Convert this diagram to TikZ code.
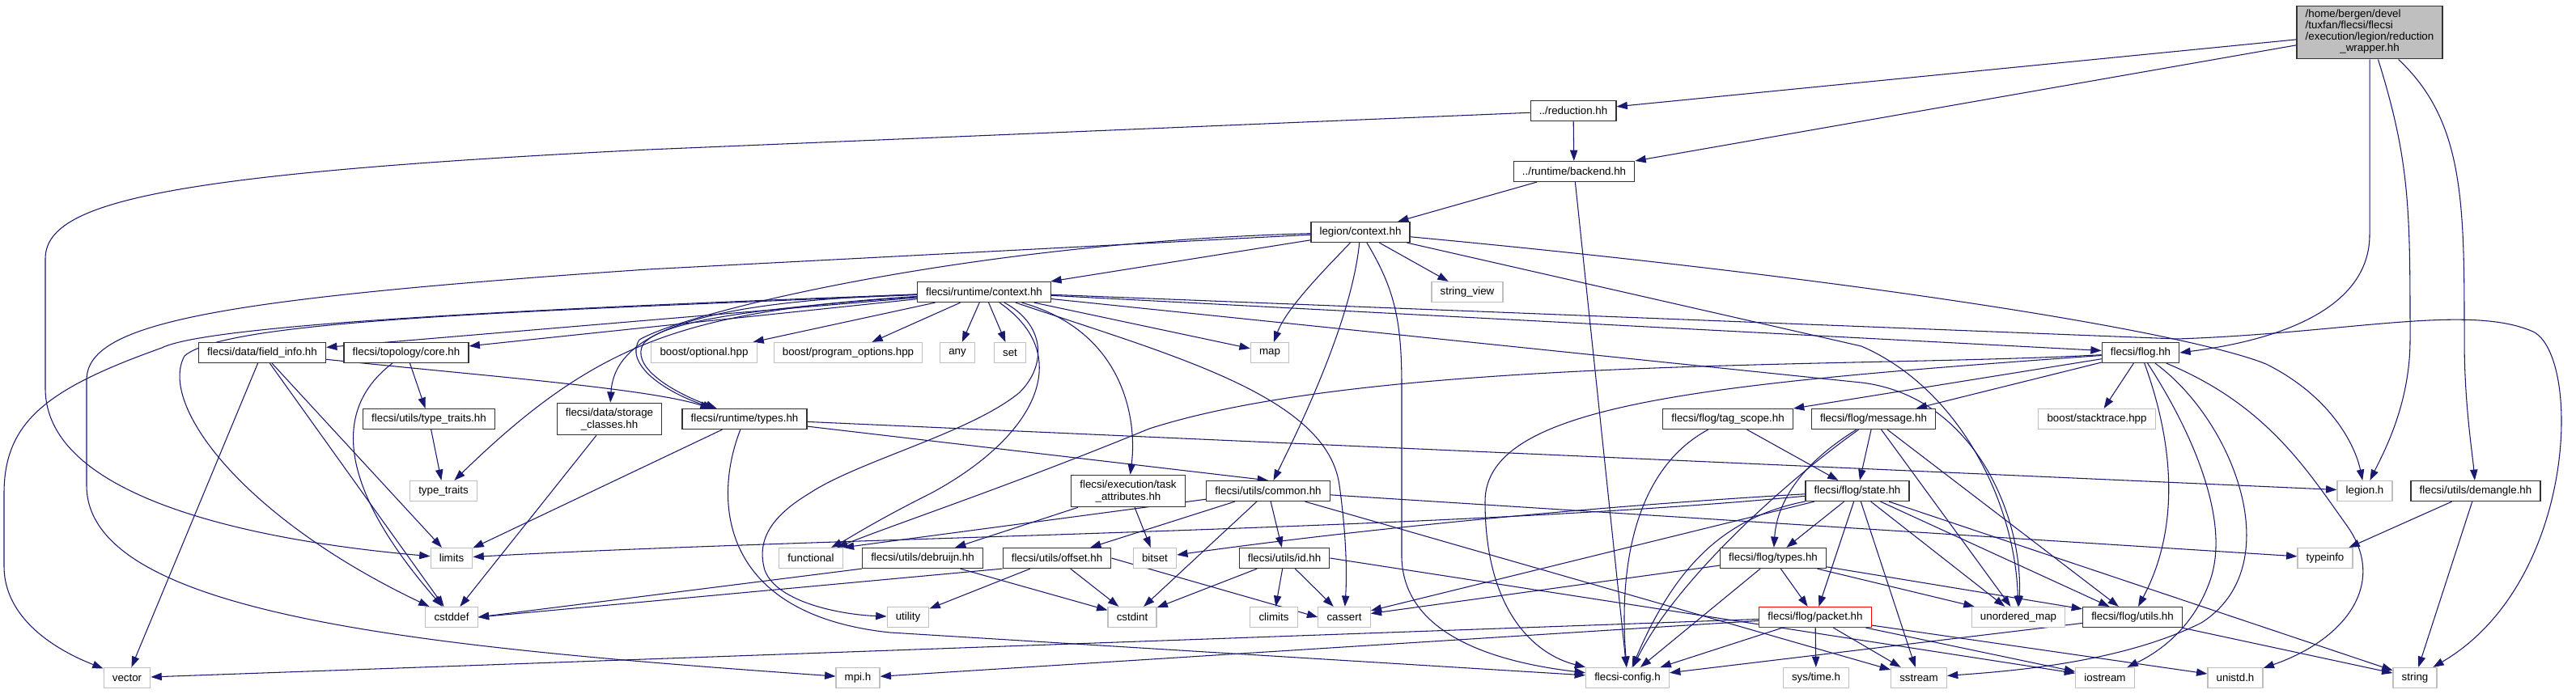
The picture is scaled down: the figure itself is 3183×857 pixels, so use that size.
\documentclass[tikz,border=0pt]{standalone}
\usepackage{fontspec}
\setmainfont{Liberation Sans}
\usepackage{xcolor}
\usetikzlibrary{arrows.meta,backgrounds}

\definecolor{edgeblue}{HTML}{191970}
\definecolor{extgray}{HTML}{BFBFBF}

\begin{document}
\begin{tikzpicture}[
    x=0.75pt, y=-0.75pt,
    hdr/.style={
      rectangle, align=center,
      font=\fontsize{10}{11.25}\selectfont,
      inner xsep=8pt, inner ysep=4.5pt,
      minimum height=18.75pt, line width=0.9pt
    },
    box/.style={hdr, draw=black!80, fill=white},
    extbox/.style={hdr, draw=extgray, fill=white},
    rootbox/.style={hdr, draw=black!80, fill=extgray, inner ysep=3.5pt},
    redbox/.style={hdr, draw=red, fill=white},
    arr/.style={-{Triangle[length=10pt,width=7pt]}, line width=0.8pt, edgeblue},
  ]
  \useasboundingbox (0,0) rectangle (3183,857);

  % The file itself
  \node[rootbox] (root) at (2928,40) {{\renewcommand\arraystretch{0.94}%
    \begin{tabular}{@{}l@{}}/home/bergen/devel\\/tuxfan/flecsi/flecsi\\/execution/legion/reduction\\
    \multicolumn{1}{@{}c@{}}{\_wrapper.hh}\end{tabular}}};

  % Backend chain
  \node[box] (red)     at (1944,137) {../reduction.hh};
  \node[box] (backend) at (1945,212) {../runtime/backend.hh};
  \node[box] (lctx)    at (1681,287) {legion/context.hh};
  \node[extbox] (strview) at (1813,361) {string\_view};
  \node[box] (rctx)    at (1216,361) {flecsi/runtime/context.hh};

  % Row below the runtime context
  \node[box] (finfo)   at (324,436)  {flecsi/data/field\_info.hh};
  \node[box] (tcore)   at (502,436)  {flecsi/topology/core.hh};
  \node[extbox] (bopt) at (870,436)  {boost/optional.hpp};
  \node[extbox] (bpo)  at (1048,436) {boost/program\_options.hpp};
  \node[extbox] (any)  at (1183,436) {any};
  \node[extbox] (set)  at (1248,436) {set};
  \node[extbox] (map)  at (1569,436) {map};
  \node[box] (flog)    at (2645,436) {flecsi/flog.hh};

  \node[box] (ttraitshh)  at (530,518)  {flecsi/utils/type\_traits.hh};
  \node[box] (storage)    at (753,518)  {flecsi/data/storage\\\_classes.hh};
  \node[box] (rtypes)     at (920,518)  {flecsi/runtime/types.hh};
  \node[box] (tagscope)   at (2135,518) {flecsi/flog/tag\_scope.hh};
  \node[box] (message)    at (2315,518) {flecsi/flog/message.hh};
  \node[extbox] (stacktrace) at (2591,518) {boost/stacktrace.hpp};

  \node[extbox] (ttraits) at (548,607)  {type\_traits};
  \node[box] (taskattr)   at (1394,607) {flecsi/execution/task\\\_attributes.hh};
  \node[box] (common)     at (1567,607) {flecsi/utils/common.hh};
  \node[box] (state)      at (2295,607) {flecsi/flog/state.hh};
  \node[extbox] (legionh) at (2922,607) {legion.h};
  \node[box] (demangle)   at (3059,607) {flecsi/utils/demangle.hh};

  \node[extbox] (limits)  at (558,690)  {limits};
  \node[extbox] (functional) at (1002,690) {functional};
  \node[box] (debruijn)   at (1140,690) {flecsi/utils/debruijn.hh};
  \node[box] (offset)     at (1306,690) {flecsi/utils/offset.hh};
  \node[extbox] (bitset)  at (1427,690) {bitset};
  \node[box] (id)         at (1587,690) {flecsi/utils/id.hh};
  \node[box] (ftypes)     at (2191,690) {flecsi/flog/types.hh};
  \node[extbox] (typeinfo) at (2873,690) {typeinfo};

  \node[extbox] (cstddef) at (558,763)  {cstddef};
  \node[extbox] (utility) at (1122,763) {utility};
  \node[extbox] (cstdint) at (1399,763) {cstdint};
  \node[extbox] (climits) at (1574,763) {climits};
  \node[extbox] (cassert) at (1661,763) {cassert};
  \node[redbox] (packet)  at (2243,763) {flecsi/flog/packet.hh};
  \node[extbox] (umap)    at (2494,763) {unordered\_map};
  \node[box] (futils)     at (2635,763) {flecsi/flog/utils.hh};

  % Bottom row
  \node[extbox] (vector)  at (157,838)  {vector};
  \node[extbox] (mpi)     at (1060,838) {mpi.h};
  \node[extbox] (config)  at (2011,838) {flecsi-config.h};
  \node[extbox] (systime) at (2244,838) {sys/time.h};
  \node[extbox] (sstream) at (2371,838) {sstream};
  \node[extbox] (iostream) at (2601,838) {iostream};
  \node[extbox] (unistd)  at (2762,838) {unistd.h};
  \node[extbox] (string)  at (2984,838) {string};

  \begin{scope}[on background layer]
  % Edges from the file
  \draw[arr] (root) -- (red);
  \draw[arr] (root) -- (backend);
  \draw[arr] (root.south) -- (2928,290) .. controls (2928,380) and (2820,420) .. (flog.east);
  \draw[arr] (root) .. controls (2978,200) and (2978,260) .. (2978,420) .. controls (2978,500) and (2945,560) .. (legionh);
  \draw[arr] (root) .. controls (3045,150) and (3045,250) .. (3045,420) .. controls (3045,500) and (3055,560) .. (demangle);

  % Reduction and backend
  \draw[arr] (red) -- (backend);
  \draw[arr] (red) -- (800,185) .. controls (200,215) and (56,250) .. (56,320) -- (56,480) .. controls (56,620) and (330,670) .. (limits);
  \draw[arr] (backend) -- (lctx);
  \draw[arr] (backend) -- (config);

  % Legion context
  \draw[arr] (lctx) -- (rctx);
  \draw[arr] (lctx) -- (strview);
  \draw[arr] (lctx) .. controls (1640,330) and (1590,380) .. (map);
  \draw[arr] (lctx) .. controls (1670,400) and (1600,540) .. (common);
  \draw[arr] (lctx) .. controls (1200,300) and (850,385) .. (790,420) .. controls (772,448) and (815,482) .. (rtypes);
  \draw[arr] (lctx) .. controls (2300,345) and (2700,410) .. (2800,450) .. controls (2880,490) and (2910,550) .. (legionh);
  \draw[arr] (lctx) -- (800,333) .. controls (260,370) and (107,400) .. (107,470) -- (107,600) .. controls (107,760) and (520,800) .. (mpi);
  \draw[arr] (lctx) -- (2300,428) .. controls (2420,480) and (2490,620) .. (umap);
  \draw[arr] (lctx) .. controls (1725,360) and (1732,400) .. (1732,480) -- (1732,690) .. controls (1735,790) and (1860,820) .. (config);

  % Runtime context
  \draw[arr] (rctx) -- (finfo);
  \draw[arr] (rctx) -- (tcore);
  \draw[arr] (rctx) .. controls (900,372) and (760,400) .. (storage);
  \draw[arr] (rctx) .. controls (850,385) and (740,420) .. (ttraits);
  \draw[arr] (rctx) .. controls (950,380) and (820,395) .. (795,425) .. controls (780,450) and (820,480) .. (rtypes);
  \draw[arr] (rctx) -- (bopt);
  \draw[arr] (rctx) -- (bpo);
  \draw[arr] (rctx) -- (any);
  \draw[arr] (rctx) -- (set);
  \draw[arr] (rctx) -- (map);
  \draw[arr] (rctx) .. controls (1290,400) and (1295,450) .. (1260,485) .. controls (1200,535) and (1060,570) .. (1000,610) .. controls (950,640) and (935,670) .. (945,705) .. controls (960,745) and (1040,760) .. (utility);
  \draw[arr] (rctx) .. controls (1330,440) and (1280,540) .. (1150,610) .. controls (1080,645) and (1050,665) .. (functional);
  \draw[arr] (rctx) .. controls (1390,410) and (1405,520) .. (taskattr);
  \draw[arr] (rctx) .. controls (1450,440) and (1640,490) .. (1655,600) .. controls (1662,650) and (1665,700) .. (cassert);
  \draw[arr] (rctx) -- (flog);
  \draw[arr] (rctx) -- (2690,419) .. controls (2900,412) and (3050,375) .. (3130,410) .. controls (3190,440) and (3185,720) .. (string);
  \draw[arr] (rctx) -- (2300,473) .. controls (2440,490) and (2500,640) .. (umap);
  \draw[arr] (rctx) .. controls (700,380) and (260,400) .. (200,430) .. controls (60,480) and (5,520) .. (5,610) -- (5,700) .. controls (5,760) and (60,800) .. (vector);
  \draw[arr] (rctx) .. controls (650,385) and (280,395) .. (228,440) .. controls (195,500) and (300,640) .. (cstddef);

  % Data, topology, runtime types
  \draw[arr] (finfo) .. controls (600,465) and (800,480) .. (rtypes);
  \draw[arr] (finfo) -- (limits);
  \draw[arr] (finfo) -- (cstddef);
  \draw[arr] (finfo) -- (vector);
  \draw[arr] (tcore) -- (ttraitshh);
  \draw[arr] (tcore) .. controls (405,510) and (425,610) .. (cstddef);
  \draw[arr] (ttraitshh) -- (ttraits);
  \draw[arr] (storage) -- (cstddef);
  \draw[arr] (rtypes) -- (common.north);
  \draw[arr] (rtypes) -- (limits);
  \draw[arr] (rtypes) -- (legionh);
  \draw[arr] (rtypes) .. controls (880,620) and (890,760) .. (1100,782) -- (config);

  % Utils
  \draw[arr] (taskattr) -- (debruijn);
  \draw[arr] (taskattr) -- (bitset);
  \draw[arr] (common) -- (functional.north east);
  \draw[arr] (common) -- (offset);
  \draw[arr] (common) -- (cstdint);
  \draw[arr] (common) -- (id);
  \draw[arr] (common) -- (typeinfo);
  \draw[arr] (common) -- (sstream);
  \draw[arr] (debruijn.south west) -- (cstddef.east);
  \draw[arr] (debruijn) -- (cstdint);
  \draw[arr] (offset.south west) -- (cstddef.east);
  \draw[arr] (offset) -- (utility);
  \draw[arr] (offset) -- (cstdint);
  \draw[arr] (offset.east) -- (cassert.west);
  \draw[arr] (id) -- (cstdint);
  \draw[arr] (id) -- (climits);
  \draw[arr] (id) -- (cassert);
  \draw[arr] (id.east) -- (iostream);

  % Flog
  \draw[arr] (flog) -- (tagscope);
  \draw[arr] (flog) -- (message);
  \draw[arr] (flog) -- (stacktrace);
  \draw[arr] (flog) .. controls (2690,560) and (2690,660) .. (futils);
  \draw[arr] (flog) .. controls (2700,520) and (2760,640) .. (2730,720) .. controls (2710,775) and (2670,805) .. (iostream);
  \draw[arr] (flog) .. controls (2800,500) and (2850,580) .. (2900,650) .. controls (2950,720) and (2900,790) .. (unistd);
  \draw[arr] (flog) .. controls (2760,520) and (2830,700) .. (2720,770) .. controls (2620,820) and (2480,830) .. (sstream);
  \draw[arr] (flog) .. controls (2300,455) and (1700,440) .. (1420,530) .. controls (1250,600) and (1100,650) .. (functional);
  \draw[arr] (flog) .. controls (2100,475) and (1835,500) .. (1835,620) .. controls (1835,760) and (1900,810) .. (config);

  \draw[arr] (message) -- (state);
  \draw[arr] (message) .. controls (2215,580) and (2195,630) .. (ftypes);
  \draw[arr] (message) .. controls (2200,600) and (2070,720) .. (config);
  \draw[arr] (message) -- (futils);
  \draw[arr] (message) -- (umap);
  \draw[arr] (tagscope) -- (state);
  \draw[arr] (tagscope) .. controls (2020,580) and (2000,700) .. (config);

  \draw[arr] (state) -- (ftypes);
  \draw[arr] (state) -- (packet);
  \draw[arr] (state) .. controls (2130,640) and (2070,700) .. (config);
  \draw[arr] (state) -- (cassert);
  \draw[arr] (state) .. controls (1900,630) and (1600,665) .. (bitset);
  \draw[arr] (state) .. controls (1800,655) and (1000,665) .. (limits);
  \draw[arr] (state) -- (umap);
  \draw[arr] (state) -- (futils);
  \draw[arr] (state) -- (sstream);
  \draw[arr] (state) -- (string);

  \draw[arr] (ftypes) -- (packet);
  \draw[arr] (ftypes) -- (config);
  \draw[arr] (ftypes) -- (cassert);
  \draw[arr] (ftypes) -- (umap);
  \draw[arr] (ftypes) -- (futils);

  \draw[arr] (packet) -- (config);
  \draw[arr] (packet) -- (systime);
  \draw[arr] (packet) -- (sstream);
  \draw[arr] (packet) -- (iostream);
  \draw[arr] (packet) -- (unistd);
  \draw[arr] (packet) -- (vector);
  \draw[arr] (packet) -- (mpi);

  \draw[arr] (futils) -- (config);
  \draw[arr] (futils) -- (string);
  \draw[arr] (demangle) -- (typeinfo);
  \draw[arr] (demangle) -- (string);
  \end{scope}

\end{tikzpicture}
\end{document}
